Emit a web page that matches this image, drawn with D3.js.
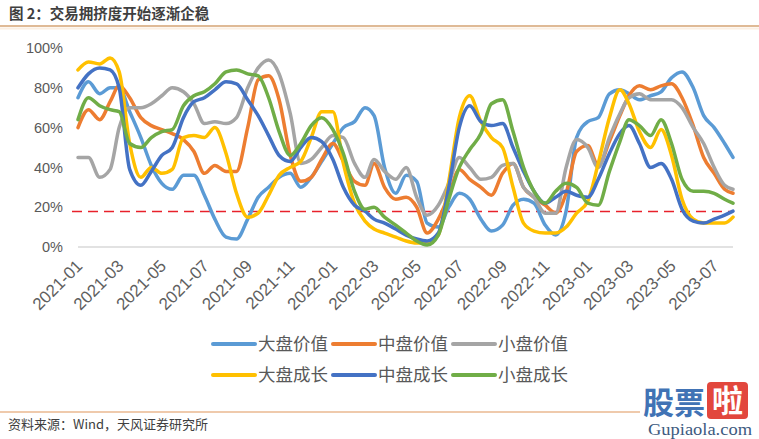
<!DOCTYPE html>
<html><head><meta charset="utf-8">
<script src="https://cdn.jsdelivr.net/npm/d3@7"></script>
<style>body{margin:0;background:#fff;} svg{display:block;}</style>
</head><body><svg id="c" width="759" height="439"></svg>
<script>
// ---- data ----
const dates = [
"2021-01-01","2021-01-16","2021-02-01","2021-02-16","2021-03-01","2021-03-16","2021-04-01","2021-04-16","2021-05-01","2021-05-16","2021-06-01","2021-06-16",
"2021-07-01","2021-07-16","2021-08-01","2021-08-16","2021-09-01","2021-09-16","2021-10-01","2021-10-16","2021-11-01","2021-11-16","2021-12-01","2021-12-16",
"2022-01-01","2022-01-16","2022-02-01","2022-02-16","2022-03-01","2022-03-16","2022-04-01","2022-04-16","2022-05-01","2022-05-16","2022-06-01","2022-06-16",
"2022-07-01","2022-07-16","2022-08-01","2022-08-16","2022-09-01","2022-09-16","2022-10-01","2022-10-16","2022-11-01","2022-11-16","2022-12-01","2022-12-16",
"2023-01-01","2023-01-16","2023-02-01","2023-02-16","2023-03-01","2023-03-16","2023-04-01","2023-04-16","2023-05-01","2023-05-16","2023-06-01","2023-06-16",
"2023-07-01","2023-07-16","2023-07-28"];
const seriesNames = ["大盘价值","中盘价值","小盘价值","大盘成长","中盘成长","小盘成长"];
const largeValue = [75,83,77,80,80,68,55,41,32,29, 36,36,26,14,5,4,14,25,30,35, 37,30,35,43,52,60,63,70,66,40, 27,36,33,12,10,20,27,24,14,8, 11,21,24,22,11,6,18,55,63,65, 77,79,77,74,76,78,85,88,80,66, 60,52,45];
const midValue   = [60,69,64,73,81,75,65,61,59,57, 54,48,37,41,38,38,60,84,86,74, 46,33,35,44,52,43,33,31,42,30, 24,25,20,7,14,26,39,34,30,26, 37,42,30,25,21,17,27,48,51,41, 53,66,76,81,79,81,82,75,61,45, 37,29,27];
const smallValue = [45,45,35,39,60,70,70,72,76,80, 78,72,62,63,62,65,80,90,94,87, 67,42,44,50,56,55,42,35,44,38, 34,40,25,16,21,32,45,40,34,35, 41,42,30,25,17,17,40,54,50,40, 55,67,75,77,74,74,74,70,60,52, 40,31,29];
const largeGrowth = [89,93,92,95,88,52,35,40,37,39, 55,56,55,60,47,27,15,17,26,36, 40,43,55,68,68,42,22,13,9,7, 5,3,2,2,6,33,65,76,63,55, 50,30,12,8,7,7,10,17,23,42, 65,79,72,58,50,59,46,24,14,12, 12,12,15];
const midGrowth  = [80,87,90,89,80,39,31,38,46,50, 65,73,75,79,83,82,74,66,56,46, 43,50,55,53,44,30,21,18,14,12, 9,6,4,3,7,30,60,71,63,61, 62,50,38,28,22,25,28,26,25,34, 47,57,61,52,40,42,34,19,13,12, 14,16,18];
const smallGrowth = [64,75,71,69,68,52,50,55,58,59, 71,76,78,82,88,89,87,86,75,58, 46,52,61,65,59,47,28,19,20,15, 11,7,3,1,6,24,40,49,57,72, 74,58,40,28,22,28,32,30,22,21, 38,53,64,61,56,64,52,34,28,28, 27,24,22];
const seriesValues = [largeValue, midValue, smallValue, largeGrowth, midGrowth, smallGrowth];
const seriesColors = ["#5b9bd5","#ed7d31","#a5a5a5","#ffc000","#4472c4","#70ad47"];
const yTicks = [0,20,40,60,80,100];
const xTickLabels = ["2021-01","2021-03","2021-05","2021-07","2021-09","2021-11","2022-01","2022-03","2022-05","2022-07","2022-09","2022-11","2023-01","2023-03","2023-05","2023-07"];
const threshold = 17.8;
const titleText = "图 2：交易拥挤度开始逐渐企稳";
const sourceText = "资料来源：Wind，天风证券研究所";

// ---- chart ----
const svg = d3.select("#c");
const parse = d3.timeParse("%Y-%m-%d");
const parseM = d3.timeParse("%Y-%m");
const dd = dates.map(parse);
const plotL = 78, plotR = 733, plotT = 48, plotB = 247;
const x = d3.scaleTime().domain([dd[0], dd[dd.length-1]]).range([plotL, plotR]);
const y = d3.scaleLinear().domain([0,100]).range([plotB, plotT]);

// title
svg.append("text").attr("x",9).attr("y",19).text(titleText)
  .attr("font-family","'Noto Sans CJK SC', sans-serif").attr("font-size",14.5).attr("font-weight","bold").attr("fill","#3f3f3f");
svg.append("line").attr("x1",0).attr("x2",759).attr("y1",26).attr("y2",26).attr("stroke","#d4a373").attr("stroke-width",1.5);
svg.append("line").attr("x1",0).attr("x2",759).attr("y1",28.5).attr("y2",28.5).attr("stroke","#fcefe2").attr("stroke-width",2);

// y axis
const gy = svg.append("g").attr("transform",`translate(${plotL},0)`)
  .call(d3.axisLeft(y).tickValues(yTicks).tickFormat(d=>d+"%").tickSize(0).tickPadding(15));
gy.select(".domain").remove();
gy.selectAll("text").attr("font-family","'Liberation Sans', Arial, sans-serif").attr("font-size",14.5).attr("fill","#595959");

// baseline
svg.append("line").attr("x1",plotL).attr("x2",plotR).attr("y1",y(0)).attr("y2",y(0)).attr("stroke","#d9d9d9").attr("stroke-width",1.5);

// x axis
const gx = svg.append("g").attr("transform",`translate(0,${y(0)})`)
  .call(d3.axisBottom(x).tickValues(xTickLabels.map(parseM)).tickFormat(d3.timeFormat("%Y-%m")).tickSize(0).tickPadding(0));
gx.select(".domain").remove();
gx.selectAll("text").attr("y",0).attr("dy",null).attr("text-anchor","end")
  .attr("transform","translate(5,20) rotate(-45)")
  .attr("font-family","'Liberation Sans', Arial, sans-serif").attr("font-size",17).attr("fill","#5f5f5f");

// threshold
svg.append("line").attr("x1",72).attr("x2",plotR).attr("y1",y(threshold)).attr("y2",y(threshold))
  .attr("stroke","#e8212b").attr("stroke-width",1.5).attr("stroke-dasharray","10,6");

// lines
const line = d3.line().x((d,i)=>x(dd[i])).y(d=>y(d)).curve(d3.curveMonotoneX);
seriesValues.forEach((vals,si)=>{
  svg.append("path").datum(vals).attr("d",line).attr("fill","none")
    .attr("stroke",seriesColors[si]).attr("stroke-width",3.5).attr("stroke-linejoin","round").attr("stroke-linecap","round");
});

// legend
const legX = [213,333,453], legY = [344,375];
seriesNames.forEach((n,i)=>{
  const lx = legX[i%3], ly = legY[Math.floor(i/3)];
  svg.append("line").attr("x1",lx).attr("x2",lx+42).attr("y1",ly).attr("y2",ly)
    .attr("stroke",seriesColors[i]).attr("stroke-width",4).attr("stroke-linecap","round");
  svg.append("text").attr("x",lx+45).attr("y",ly+6).text(n)
    .attr("font-family","'Noto Sans CJK SC', sans-serif").attr("font-size",17.5).attr("fill","#595959");
});

// footer
svg.append("line").attr("x1",0).attr("x2",640).attr("y1",412).attr("y2",412).attr("stroke","#e0965a").attr("stroke-width",1.2);
svg.append("text").attr("x",8).attr("y",429).text(sourceText)
  .attr("font-family","'Noto Sans CJK SC', sans-serif").attr("font-size",13).attr("fill","#404040");

// watermark
svg.append("text").attr("x",643).attr("y",414).text("股票")
  .attr("font-family","'Noto Sans CJK SC', sans-serif").attr("font-size",31).attr("font-weight","bold").attr("fill","#4173b5");
svg.append("rect").attr("x",707).attr("y",382).attr("width",41).attr("height",37).attr("rx",4).attr("fill","#e2473d");
svg.append("text").attr("x",727.5).attr("y",412).attr("text-anchor","middle").text("啦")
  .attr("font-family","'Noto Sans CJK SC', sans-serif").attr("font-size",31).attr("font-weight","bold").attr("fill","#ffffff");
svg.append("text").attr("x",648).attr("y",435).text("Gupiaola.com")
  .attr("textLength",104).attr("lengthAdjust","spacingAndGlyphs")
  .attr("font-family","'Liberation Serif', 'DejaVu Serif', serif").attr("font-size",16).attr("fill","#3d5a80");
</script></body></html>
